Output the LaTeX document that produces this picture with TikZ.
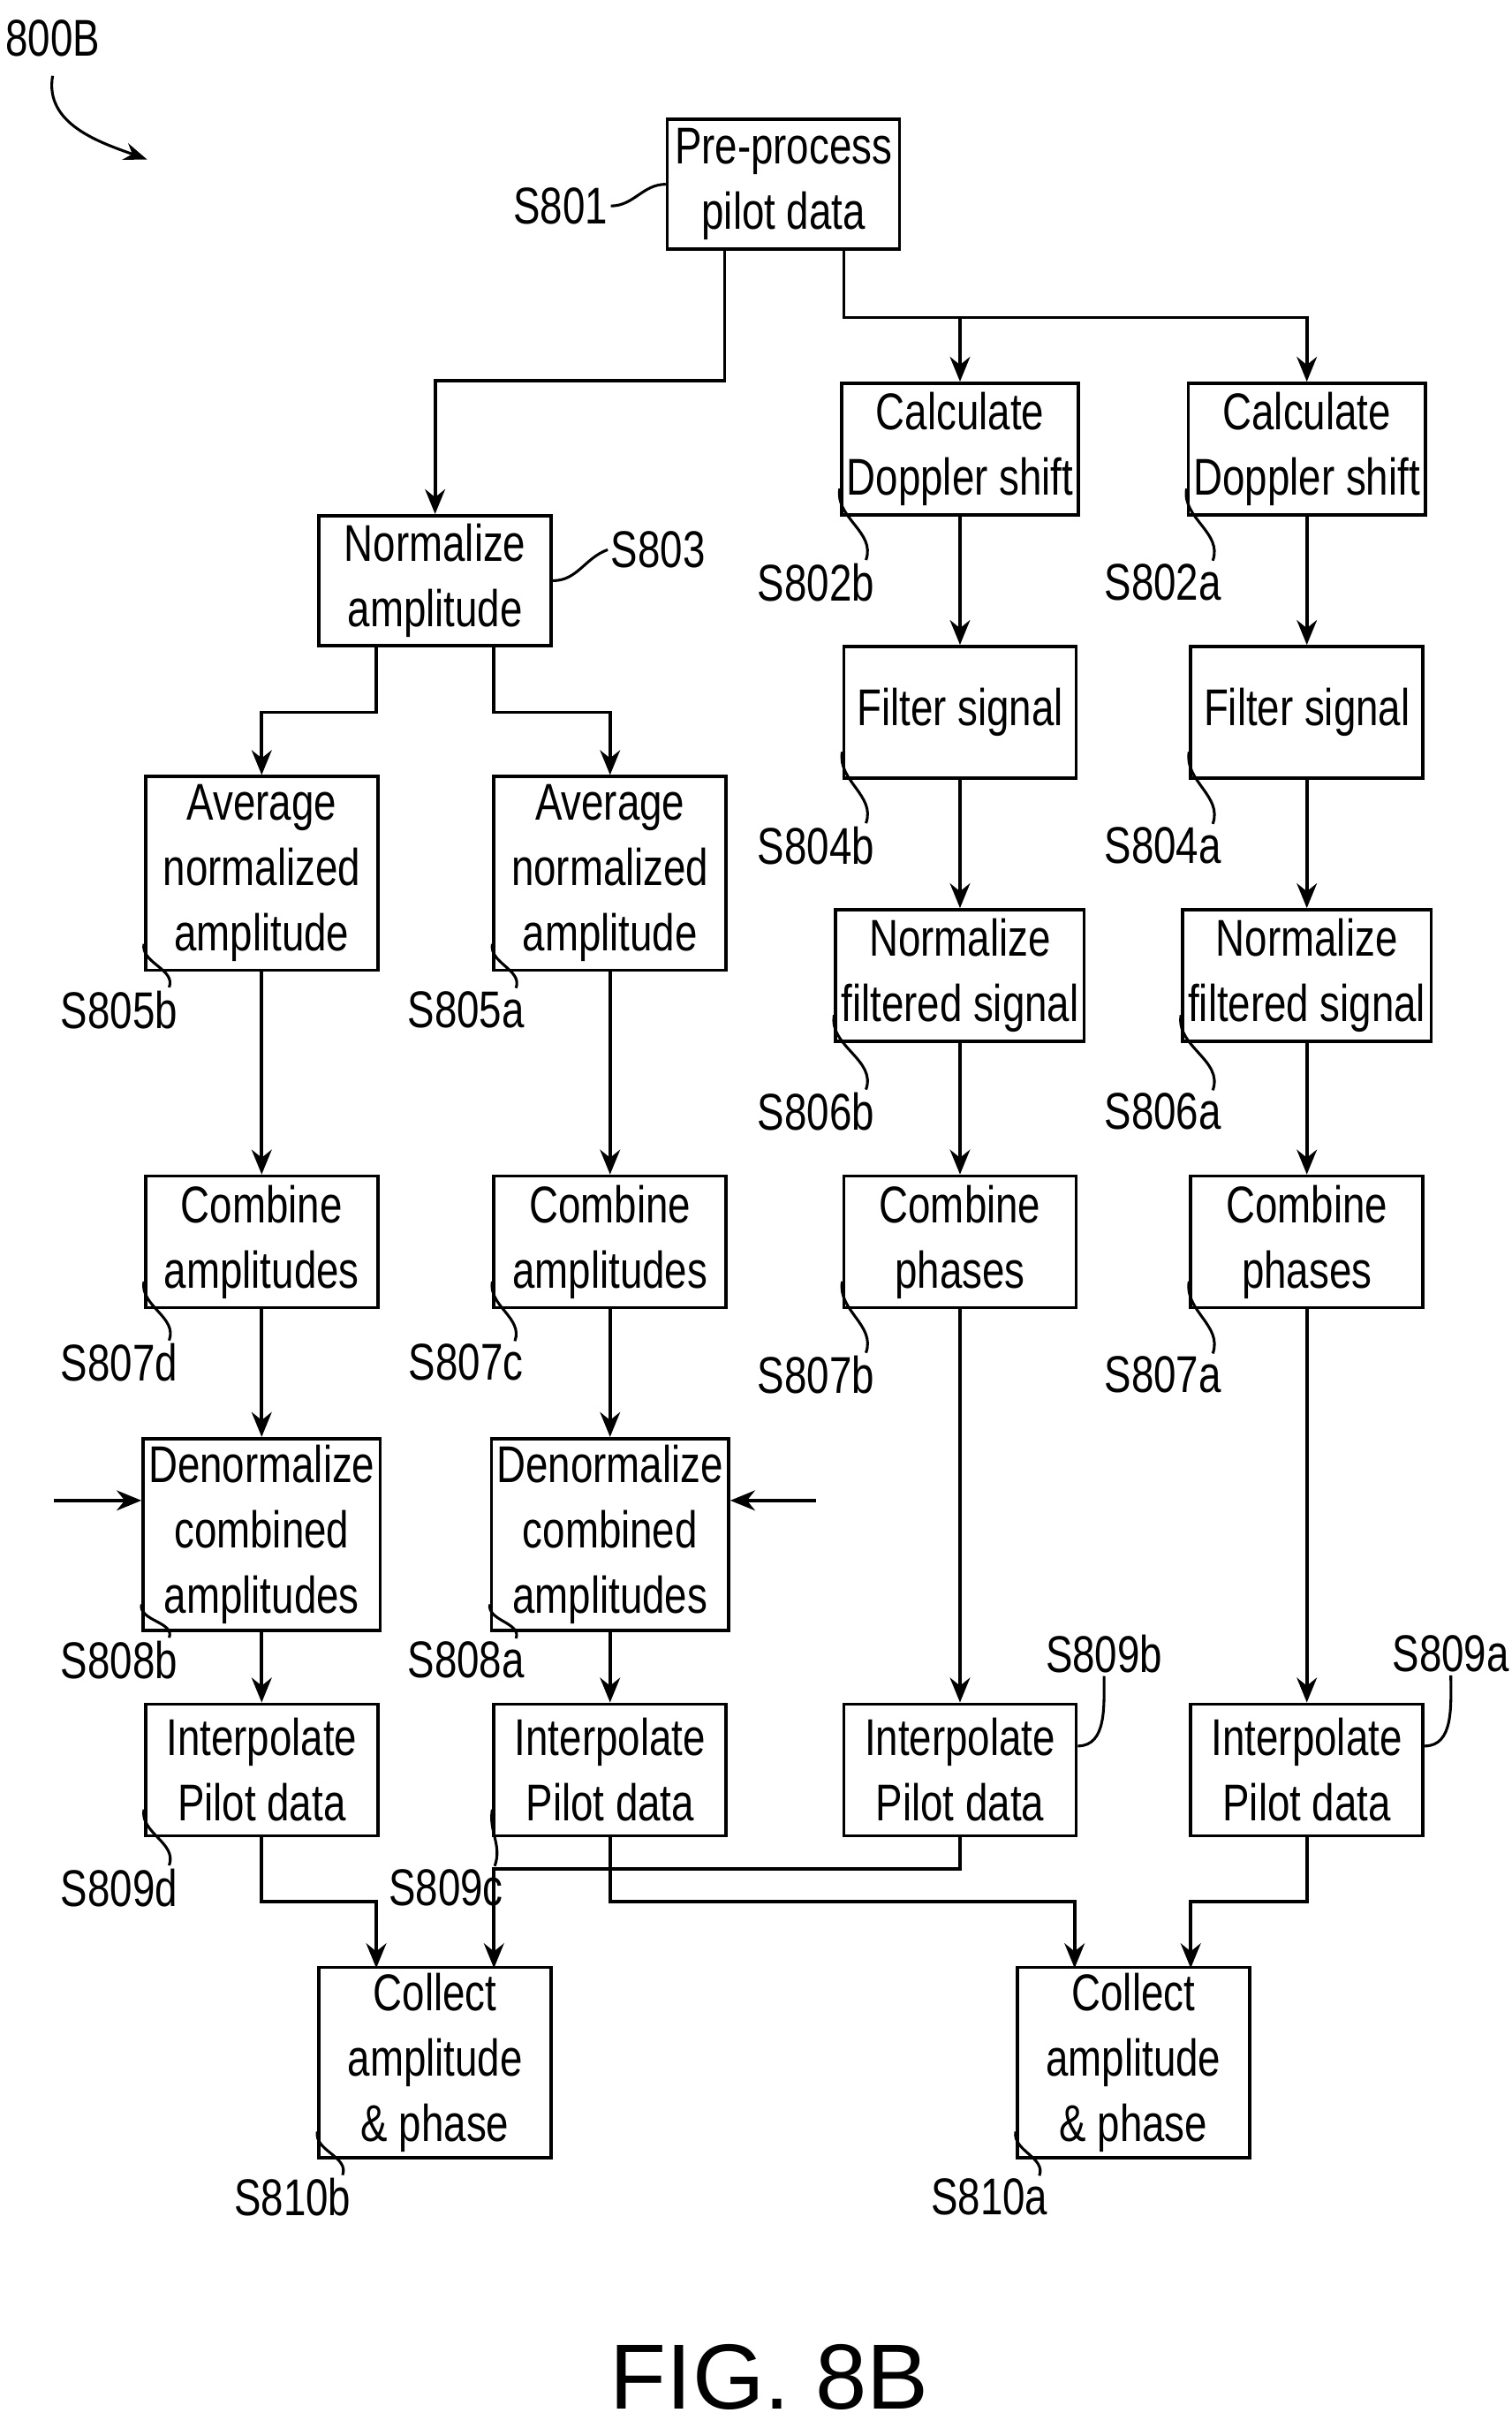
\documentclass[tikz,border=0pt]{standalone}
\usepackage{fontspec}
\setmainfont{Liberation Sans}[FakeStretch=0.78]
\newfontfamily\figfont{Liberation Sans}
\usetikzlibrary{arrows.meta}

\tikzset{
	stepbox/.style={draw,line width=1.2pt,minimum width=150*0.02cm,align=center,inner sep=2pt,font=\fontsize{19}{24}\selectfont},
	tag/.style={inner sep=1pt,font=\fontsize{19}{22}\selectfont},
	flow/.style={line width=1.2pt,-{Stealth[length=3.2mm,width=2.6mm]}},
	lead/.style={line width=1pt}
}
\newcommand{\leadl}[2]{\draw[lead] (#1.south west) ++(0,-18) to[out=-100,in=70] ([xshift=-1.5mm]#2.north east);}

\begin{document}
\begin{tikzpicture}[x=0.02cm,y=-0.02cm]
	\useasboundingbox (0,0) rectangle (976,1568);

	% title
	\node[tag] (fig) at (34,25) {800B};
	\draw[lead,-{Stealth[length=3mm]}] (fig.south) ++(0,10) to[out=-100,in=160] (95,103);

	% top
	\node[stepbox,minimum height=84*0.02cm] (pre) at (506,119) {Pre-process\\pilot data};
	\node[tag] (s801) at (362,133) {S801};
	\draw[lead] (s801.east) to[out=0,in=180] (pre.west);

	% amplitude branch
	\node[stepbox,minimum height=84*0.02cm] (norm) at (281,375) {Normalize\\amplitude};
	\node[tag] (s803) at (425,355) {S803};
	\draw[lead] (norm.east) to[out=0,in=200] (s803.west);
	\foreach \c/\x/\l in {b/169/d,a/394/c}{
		\node[stepbox,minimum height=125*0.02cm] (avg\c) at (\x,564) {Average\\normalized\\amplitude};
		\node[stepbox,minimum height=85*0.02cm] (cmb\l) at (\x,802) {Combine\\amplitudes};
		\node[stepbox,minimum height=124*0.02cm] (den\c) at (\x,991) {Denormalize\\combined\\amplitudes};
		\node[stepbox,minimum height=85*0.02cm] (int\l) at (\x,1143) {Interpolate\\Pilot data};
		\draw[flow] (avg\c) -- (cmb\l);
		\draw[flow] (cmb\l) -- (den\c);
		\draw[flow] (den\c) -- (int\l);
	}
	\node[tag] (s805b) at (77,652) {S805b};
	\node[tag] (s805a) at (301,652) {S805a};
	\node[tag] (s807d) at (77,880) {S807d};
	\node[tag] (s807c) at (301,880) {S807c};
	\node[tag] (s808b) at (77,1072) {S808b};
	\node[tag] (s808a) at (301,1072) {S808a};
	\node[tag] (s809d) at (77,1219) {S809d};
	\node[tag] (s809c) at (288,1219) {S809c};
	\leadl{avgb}{s805b} \leadl{avga}{s805a}
	\leadl{cmbd}{s807d} \leadl{cmbc}{s807c}
	\leadl{denb}{s808b} \leadl{dena}{s808a}
	\leadl{intd}{s809d} \leadl{intc}{s809c}

	% phase branches
	\foreach \c/\x in {b/620,a/844}{
		\node[stepbox,minimum height=85*0.02cm] (dop\c) at (\x,290) {Calculate\\Doppler shift};
		\node[stepbox,minimum height=85*0.02cm] (fil\c) at (\x,460) {Filter signal};
		\node[stepbox,minimum height=85*0.02cm] (nfs\c) at (\x,630) {Normalize\\filtered signal};
		\node[stepbox,minimum height=85*0.02cm] (cph\c) at (\x,802) {Combine\\phases};
		\node[stepbox,minimum height=85*0.02cm] (int\c) at (\x,1143) {Interpolate\\Pilot data};
		\draw[flow] (dop\c) -- (fil\c);
		\draw[flow] (fil\c) -- (nfs\c);
		\draw[flow] (nfs\c) -- (cph\c);
		\draw[flow] (cph\c) -- (int\c);
		\node[tag] (s802\c) at (\x-93,376) {S802\c};
		\node[tag] (s804\c) at (\x-93,546) {S804\c};
		\node[tag] (s806\c) at (\x-93,718) {S806\c};
		\node[tag] (s807\c) at (\x-93,888) {S807\c};
		\node[tag] (s809\c) at (\x+93,1068) {S809\c};
		\leadl{dop\c}{s802\c} \leadl{fil\c}{s804\c}
		\leadl{nfs\c}{s806\c} \leadl{cph\c}{s807\c}
		\draw[lead] ([yshift=-16]int\c.north east) to[out=0,in=-90] (s809\c.south);
	}

	% collect
	\node[stepbox,minimum height=123*0.02cm] (colb) at (281,1332) {Collect\\amplitude\\\& phase};
	\node[stepbox,minimum height=123*0.02cm] (cola) at (732,1332) {Collect\\amplitude\\\& phase};
	\node[tag] (s810b) at (189,1419) {S810b};
	\node[tag] (s810a) at (639,1419) {S810a};
	\leadl{colb}{s810b} \leadl{cola}{s810a}

	% connectors
	\coordinate (pl) at (468,161);
	\coordinate (pr) at (545,161);
	\draw[flow] (pl) |- (281,246) -- (norm.north);
	\draw[flow] (pr) |- (620,205) -- (dopb.north);
	\draw[flow] (620,205) -| (dopa.north);
	\draw[flow] ([xshift=-38*0.02cm]norm.south) |- (169,460) -- (avgb.north);
	\draw[flow] ([xshift=38*0.02cm]norm.south) |- (394,460) -- (avga.north);
	\draw[flow] (intd.south) |- (243,1228) -- (243,1271);
	\draw[flow] (intc.south) |- (694,1228) -- (694,1271);
	\draw[flow] (intb.south) |- (319,1207) -- (319,1271);
	\draw[flow] (inta.south) |- (769,1228) -- (769,1271);
	\coordinate (inl) at (35,969);
	\coordinate (inr) at (527,969);
	\draw[flow] (inl) -- (denb.west |- inl);
	\draw[flow] (inr) -- (dena.east |- inr);

	\node[font=\figfont\fontsize{34}{40}\selectfont] (cap) at (497,1535) {FIG. 8B};
\end{tikzpicture}
\end{document}
